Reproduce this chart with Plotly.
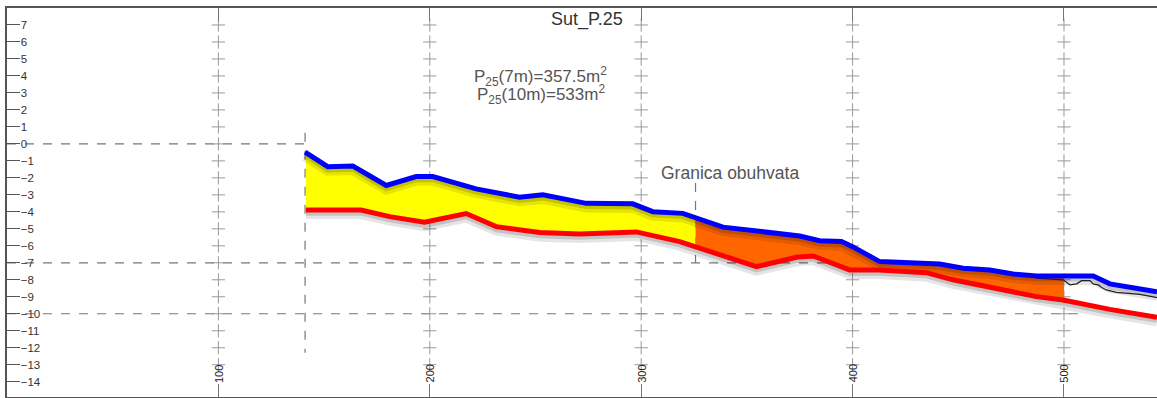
import numpy as np
import plotly.graph_objects as go

# Designed surface profile (blue): chainage [m] and elevation [m]
surface_x = [141, 151.7, 163.6, 179.4, 193.6, 201.4, 221.9, 242.4, 253.5, 274, 296,
             305.5, 319.7, 338.7, 375, 384.4, 394.7, 400, 412.8, 431.8, 441.2, 452.3,
             464.9, 475.9, 487, 513.8, 521.7, 539, 544]
surface_y = [-0.49, -1.34, -1.3, -2.45, -1.92, -1.92, -2.65, -3.14, -3.0, -3.5, -3.53,
             -3.99, -4.09, -4.9, -5.42, -5.7, -5.75, -6.05, -6.93, -6.99, -7.07, -7.32,
             -7.42, -7.66, -7.77, -7.77, -8.24, -8.6, -8.7]

# Excavation bottom (red)
bottom_x = [141.4, 167.5, 181, 197.5, 217.2, 231.4, 252, 270.8, 297.7, 318.2, 354.5,
            373.4, 381.3, 398.6, 412.8, 434.9, 447.5, 463.3, 487, 499.6, 521.7, 544]
bottom_y = [-3.89, -3.89, -4.28, -4.61, -4.1, -4.87, -5.22, -5.3, -5.18, -5.75, -7.23,
            -6.67, -6.6, -7.42, -7.42, -7.58, -8.0, -8.4, -8.99, -9.19, -9.74, -10.2]

# Existing terrain (thin black) beyond the zone
terrain_x = [487, 499.6, 502.8, 506, 508.3, 512.3, 513.8, 516.2, 517.7, 520, 524.8,
             531.1, 535.9, 542.2, 544]
terrain_y = [-7.9, -8.0, -8.3, -8.24, -8.05, -8.05, -8.24, -8.3, -8.44, -8.6, -8.74,
             -8.8, -8.86, -9.0, -9.05]

# Zone limits along the chainage: start, "Granica obuhvata", end
zone_start, zone_border, zone_end = 141.4, 325.7, 500

x_ticks = [100, 200, 300, 400, 500]
x_tick_labels = ["100", "200", "300", "400", "500"]
y_ticks = list(range(-14, 8))

FONT = "Liberation Sans, Arial, sans-serif"


def band(x0, x1):
    """Closed polygon between the surface and bottom lines on [x0, x1]."""
    xt = [x0] + [v for v in surface_x if x0 < v < x1] + [x1]
    xb = [x0] + [v for v in bottom_x if x0 < v < x1] + [x1]
    yt = np.interp(xt, surface_x, surface_y)
    yb = np.interp(xb, bottom_x, bottom_y)
    return xt + xb[::-1], list(yt) + list(yb[::-1])


fig = go.Figure()

# grid crosses
gx, gy = np.meshgrid(x_ticks, y_ticks[1:])
fig.add_trace(go.Scatter(
    x=gx.ravel(), y=gy.ravel(), mode="markers", hoverinfo="skip",
    marker=dict(symbol="cross-thin", size=9.5, line=dict(color="#999999", width=1)),
))

# filled zones
for (a, b), col in [((zone_start, zone_border), "#FFFF00"),
                    ((zone_border, zone_end), "#FF6600")]:
    px, py = band(a, b)
    fig.add_trace(go.Scatter(x=px, y=py, fill="toself", fillcolor=col, mode="none",
                             hoverinfo="skip"))

# soft shadows under the profile lines
for xs, ys in [(surface_x, surface_y), (bottom_x, bottom_y)]:
    for dy, alpha, w in [(-0.24, 0.10, 10), (-0.16, 0.15, 6)]:
        fig.add_trace(go.Scatter(x=xs, y=np.array(ys) + dy, mode="lines",
                                 line=dict(color=f"rgba(0,0,0,{alpha})", width=w),
                                 hoverinfo="skip"))

fig.add_trace(go.Scatter(x=terrain_x, y=terrain_y, mode="lines",
                         line=dict(color="#222222", width=1.3)))
fig.add_trace(go.Scatter(x=bottom_x, y=bottom_y, mode="lines",
                         line=dict(color="#FF0000", width=5)))
fig.add_trace(go.Scatter(x=surface_x, y=surface_y, mode="lines",
                         line=dict(color="#0000FF", width=5)))

# dashed reference lines
dash = dict(color="#777777", width=1.2, dash="dash")
for x0, y0, x1, y1 in [(0, 0, surface_x[0], 0),
                       (surface_x[0], 0.65, surface_x[0], -12.3),
                       (0, -7, 400, -7),
                       (0, -10, 509, -10),
                       (zone_border, -2.3, zone_border, -7)]:
    fig.add_shape(type="line", xref="x", yref="y", x0=x0, y0=y0, x1=x1, y1=y1,
                  line=dash, layer="below")

# chainage labels, rotated and sitting on the bottom ticks
for xv, lab in zip(x_ticks, x_tick_labels):
    fig.add_annotation(x=xv, y=0.06, xref="x", yref="paper", text=lab, textangle=-90,
                       showarrow=False, yanchor="middle", bgcolor="rgba(0,0,0,0)",
                       font=dict(family=FONT, size=11, color="#222222"))

fig.add_annotation(x=292.5, y=7.3, text="Sut_P.25", showarrow=False, xanchor="right",
                   font=dict(family=FONT, size=18, color="#333333"))
fig.add_annotation(x=252.4, y=3.95, text="P<sub>25</sub>(7m)=357.5m<sup>2</sup>",
                   showarrow=False, font=dict(family=FONT, size=17, color="#555555"))
fig.add_annotation(x=252.4, y=2.88, text="P<sub>25</sub>(10m)=533m<sup>2</sup>",
                   showarrow=False, font=dict(family=FONT, size=17, color="#555555"))
fig.add_annotation(x=342.2, y=-1.71, text="Granica obuhvata", showarrow=False,
                   font=dict(family=FONT, size=17.5, color="#555555"))

fig.update_layout(
    width=1157, height=398,
    margin=dict(l=7, r=0, t=8, b=1),
    paper_bgcolor="white", plot_bgcolor="white",
    showlegend=False,
    font=dict(family=FONT, size=11, color="#333333"),
    xaxis=dict(range=[0, 544], tickvals=x_ticks, ticks="inside", ticklen=13,
               tickcolor="#777777", tickwidth=1, showline=True, linecolor="#555555",
               linewidth=2, mirror="ticks", showticklabels=False,
               showgrid=False, zeroline=False),
    yaxis=dict(range=[-14.9, 8], tickvals=y_ticks, ticks="inside", ticklen=13,
               tickcolor="#555555", tickwidth=1, showline=True, linecolor="#555555",
               linewidth=2, ticklabelposition="inside", showgrid=False, zeroline=False,
               tickfont=dict(size=11.5, color="#333333")),
)

fig.write_html("out.html")
